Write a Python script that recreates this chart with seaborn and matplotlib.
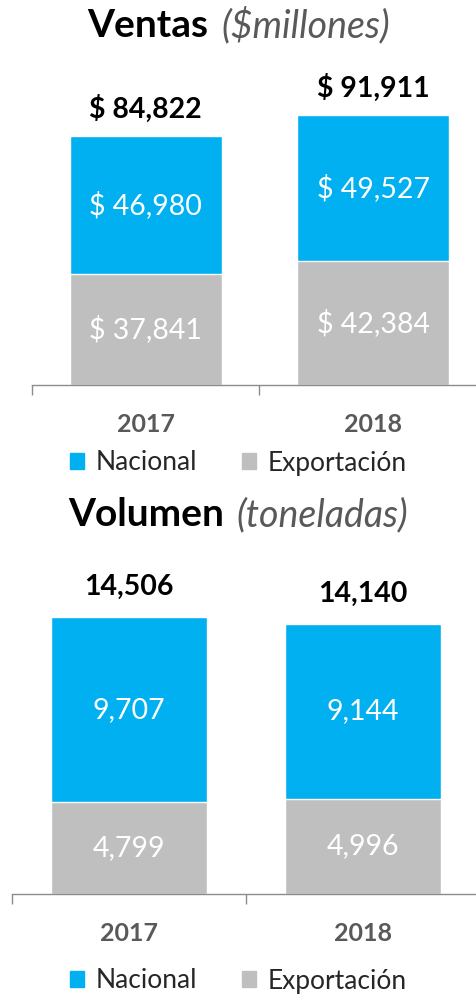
import matplotlib
matplotlib.use("Agg")
import matplotlib.pyplot as plt
from matplotlib.patches import Patch
from matplotlib.offsetbox import TextArea, HPacker, AnnotationBbox
import seaborn as sns
import pandas as pd

# datos
years = ["2017", "2018"]
ventas_nacional = [46980, 49527]
ventas_export = [37841, 42384]
ventas_total = [84822, 91911]
volumen_nacional = [9707, 9144]
volumen_export = [4799, 4996]
volumen_total = [14506, 14140]

AZUL = "#00B0F0"
GRIS = "#BFBFBF"
GRIS_TXT = "#595959"

sns.set_theme(style="white")
plt.rcParams["font.family"] = ["Lato", "DejaVu Sans"]

W, H = 477, 994
fig = plt.figure(figsize=(W / 100, H / 100), dpi=100)


def px_axes(left, right, bottom, top):
    return fig.add_axes([left / W, 1 - bottom / H, (right - left) / W, (bottom - top) / H])


def titulo(bold, italic, y):
    a = TextArea(bold, textprops=dict(fontsize=28, fontweight="bold", color="black"))
    b = TextArea(italic, textprops=dict(fontsize=27, fontstyle="italic", color=GRIS_TXT))
    box = HPacker(children=[a, b], align="baseline", pad=0, sep=9)
    ab = AnnotationBbox(box, (0.5, 1 - y / H), xycoords="figure fraction",
                        box_alignment=(0.5, 0.5), frameon=False)
    fig.add_artist(ab)


def leyenda(y):
    handles = [Patch(color=AZUL, label="Nacional"), Patch(color=GRIS, label="Exportación")]
    fig.legend(handles=handles, loc="center", bbox_to_anchor=(0.5, 1 - y / H), ncol=2,
               frameon=False, handlelength=0.52, handleheight=0.52, handletextpad=0.45,
               columnspacing=1.7, prop=dict(size=19))


def grafico(ax, nacional, export, total, ymax, prefijo, off_total):
    df = pd.DataFrame({"year": years, "total": total, "export": export, "nacional": nacional})
    sns.barplot(data=df, x="year", y="total", color=AZUL, saturation=1, width=0.667, ax=ax)
    sns.barplot(data=df, x="year", y="export", color=GRIS, saturation=1, width=0.667, ax=ax)
    ax.set_ylim(0, ymax)
    ax.set_xlim(-0.5, 1.5)
    for i, (n, e, t) in enumerate(zip(nacional, export, total)):
        ax.text(i, e + n / 2, f"{prefijo}{n:,}", ha="center", va="center",
                color="white", fontsize=20.5)
        ax.text(i, e / 2, f"{prefijo}{e:,}", ha="center", va="center",
                color="white", fontsize=20.5)
        ax.annotate(f"{prefijo}{t:,}", (i, t), xytext=(0, off_total), textcoords="offset pixels",
                    ha="center", va="center", fontsize=20.5, fontweight="bold", color="black")
    sns.despine(ax=ax, left=True)
    ax.spines["bottom"].set_color("#8C8C8C")
    ax.spines["bottom"].set_linewidth(1)
    ax.set_yticks([])
    ax.set_xlabel("")
    ax.set_ylabel("")
    ax.set_xticks([-0.5, 0.5, 1.5], minor=True)
    ax.tick_params(axis="x", which="minor", bottom=True, length=7, width=1, color="#8C8C8C", direction="out")
    ax.tick_params(axis="x", which="major", length=0, pad=20)
    for lbl in ax.get_xticklabels():
        lbl.set_fontweight("bold")
        lbl.set_fontsize(18)
        lbl.set_color(GRIS_TXT)


# Ventas
ax1 = px_axes(32, 487, 385, 60)
grafico(ax1, ventas_nacional, ventas_export, ventas_total, 325 * 84822 / 249, "$ ", 27)
titulo("Ventas", "($millones)", 25)
leyenda(463)

# Volumen
ax2 = px_axes(12, 480, 894, 560)
grafico(ax2, volumen_nacional, volumen_export, volumen_total, 334 * 14506 / 277, "", 30)
titulo("Volumen", "(toneladas)", 515)
leyenda(981)

fig.savefig("out.png", dpi=100)
